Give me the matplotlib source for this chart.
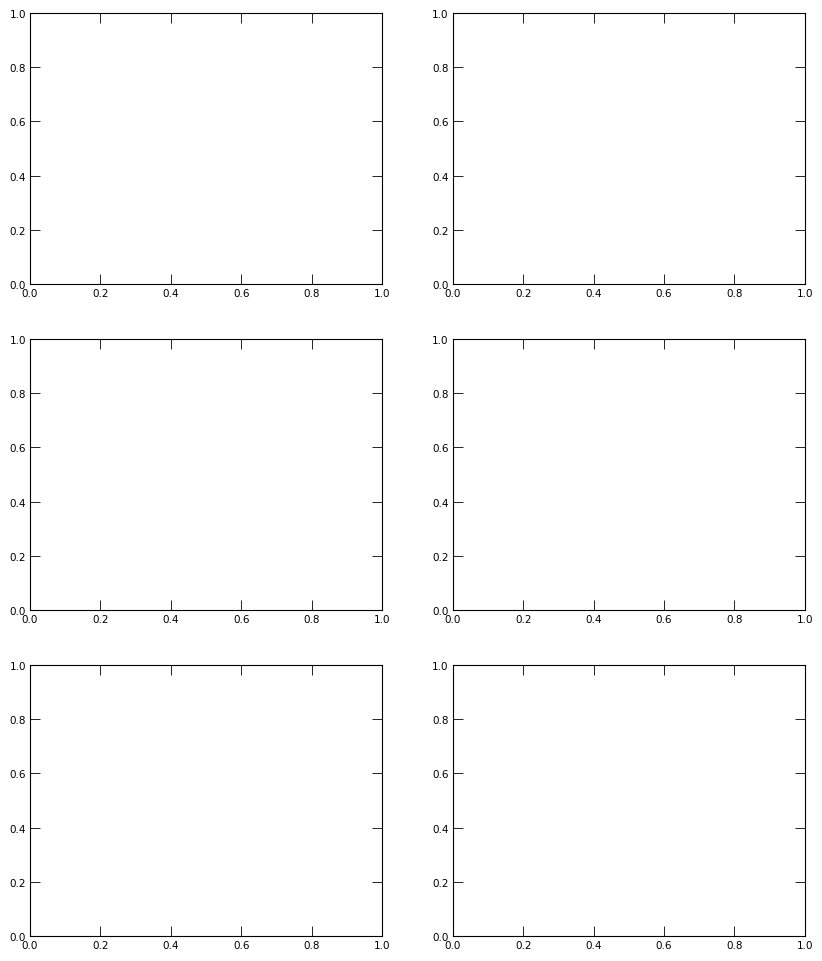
import numpy as np
from matplotlib import pyplot as plt

nrows = 3
ncols = 2
x_limits = [0.0, 1.0]
y_limits = [0.0, 1.0]
tick_values = [0.0, 0.2, 0.4, 0.6, 0.8, 1.0]


def style_axes(ax):
    ax.set_xlim(x_limits)
    ax.set_ylim(y_limits)
    ax.set_xticks(tick_values)
    ax.set_yticks(tick_values)
    ax.tick_params(direction="in", length=7.2, width=0.6, labelsize=7.5,
                   top=True, right=True, pad=3, colors="black")
    for spine in ax.spines.values():
        spine.set_linewidth(0.8)
        spine.set_color("black")


def main():
    fig, axes = plt.subplots(nrows, ncols, figsize=(8.22, 9.62), dpi=100)
    fig.subplots_adjust(left=0.0365, right=0.979, bottom=0.026, top=0.9855,
                        wspace=0.2017, hspace=0.202)
    for ax in axes.flat:
        style_axes(ax)
    fig.savefig("out.png", dpi=100)


if __name__ == "__main__":
    main()
